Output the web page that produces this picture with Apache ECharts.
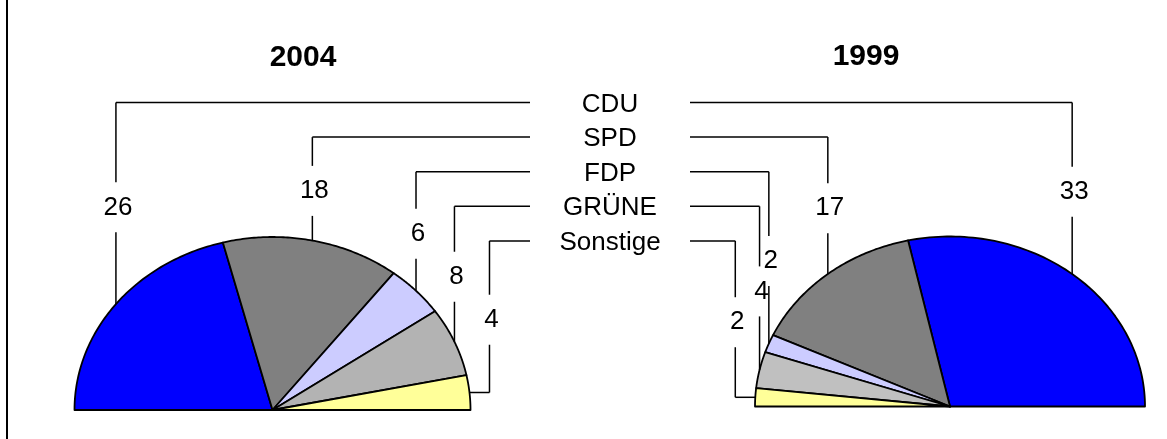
<!DOCTYPE html>
<html><head><meta charset="utf-8">
<script src="https://cdn.jsdelivr.net/npm/echarts@6/dist/echarts.min.js"></script>
<style>html,body{margin:0;padding:0;background:#fff}#c{width:1167px;height:439px}</style>
</head><body><div id="c"></div>
<script>
const categories = ['CDU', 'SPD', 'FDP', 'GRÜNE', 'Sonstige'];
const seats2004 = [26, 18, 6, 8, 4];
const seats1999 = [33, 17, 2, 4, 2];
const years = ['2004', '1999'];

const FONT = '"Liberation Sans", Arial, sans-serif';
const pies = [
  { values: seats2004, cx: 272.5, cy: 410, rx: 198, ry: 173, start: Math.PI, dir: -1,
    colors: ['#0000FF', '#808080', '#CCCCFF', '#B3B3B3', '#FFFF99'] },
  { values: seats1999, cx: 950, cy: 406.5, rx: 195, ry: 170, start: 0, dir: 1,
    colors: ['#0000FF', '#808080', '#CCCCFF', '#C0C0C0', '#FFFF99'] }
];
const ROW0 = 102.5, ROWSTEP = 34.6, MIDX = 610, HALFGAP = 80;

function makeRender(pie, drawCategories) {
  const total = pie.values.reduce((a, b) => a + b, 0);
  return function (params, api) {
    const i = params.dataIndex;
    const v = api.value(0);
    let before = 0;
    for (let k = 0; k < i; k++) before += pie.values[k];
    const a0 = pie.start + pie.dir * Math.PI * before / total;
    const a1 = pie.start + pie.dir * Math.PI * (before + v) / total;
    const pt = a => [pie.cx + pie.rx * Math.cos(a), pie.cy - pie.ry * Math.sin(a)];
    const pts = [[pie.cx, pie.cy]];
    const N = 80;
    for (let s = 0; s <= N; s++) pts.push(pt(a0 + (a1 - a0) * s / N));
    const children = [{
      type: 'polygon', shape: { points: pts },
      style: { fill: pie.colors[i], stroke: '#000', lineWidth: 1.8, lineJoin: 'round' }
    }];
    const mid = (a0 + a1) / 2;
    const P = pt(mid);
    const rowY = ROW0 + i * ROWSTEP;
    const innerX = MIDX + pie.dir * HALFGAP * -1 * -1 * (pie.dir < 0 ? 1 : 1) * (pie.dir < 0 ? -1 : 1) * (pie.dir < 0 ? -1 : 1);
    const lineEndX = pie.dir < 0 ? MIDX - HALFGAP : MIDX + HALFGAP;
    const elbow = Math.abs(Math.sin(mid)) < 0.2;
    const labelX = elbow ? P[0] + (Math.cos(mid) > 0 ? 20 : -20) : P[0];
    const endY = P[1];
    const labelY = rowY + (endY - rowY) * 0.52;
    const ls = { stroke: '#000', lineWidth: 1.5 };
    children.push({ type: 'line', shape: { x1: labelX, y1: rowY, x2: lineEndX, y2: rowY }, style: ls });
    children.push({ type: 'line', shape: { x1: labelX, y1: rowY, x2: labelX, y2: labelY - 25 }, style: ls });
    children.push({ type: 'line', shape: { x1: labelX, y1: labelY + 25, x2: labelX, y2: endY }, style: ls });
    if (elbow) children.push({ type: 'line', shape: { x1: labelX, y1: endY, x2: P[0], y2: endY }, style: ls });
    children.push({ type: 'text', style: { text: String(v), x: labelX + 2, y: labelY, font: '26px ' + FONT,
      fill: '#000', textAlign: 'center', textVerticalAlign: 'middle' } });
    if (drawCategories) {
      children.push({ type: 'text', style: { text: categories[i], x: MIDX, y: rowY + 2, font: '26px ' + FONT,
        fill: '#000', textAlign: 'center', textVerticalAlign: 'middle' } });
    }
    return { type: 'group', children };
  };
}

const chart = echarts.init(document.getElementById('c'), null, { renderer: 'canvas' });
chart.setOption({
  animation: false,
  backgroundColor: '#fff',
  graphic: [
    { type: 'line', shape: { x1: 7, y1: 0, x2: 7, y2: 439 }, style: { stroke: '#000', lineWidth: 2 } },
    { type: 'text', x: 303, y: 58, style: { text: years[0], font: 'bold 30px ' + FONT, fill: '#000', textAlign: 'center', textVerticalAlign: 'middle' } },
    { type: 'text', x: 866, y: 57, style: { text: years[1], font: 'bold 30px ' + FONT, fill: '#000', textAlign: 'center', textVerticalAlign: 'middle' } }
  ],
  series: [
    { type: 'custom', coordinateSystem: 'none', silent: true, data: seats2004, renderItem: makeRender(pies[0], true) },
    { type: 'custom', coordinateSystem: 'none', silent: true, data: seats1999, renderItem: makeRender(pies[1], false) }
  ]
});
</script>
</body></html>
